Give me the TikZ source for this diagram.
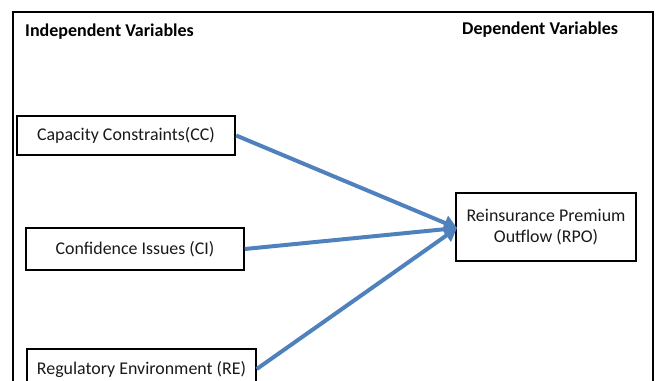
\documentclass[tikz,border=0pt]{standalone}
\usepackage{fontspec}
\setmainfont{Carlito}
\usetikzlibrary{arrows.meta}
\definecolor{arrowblue}{RGB}{79,129,189}
\begin{document}
\begin{tikzpicture}[x=1pt,y=-1pt,
  varbox/.style={draw=black,rectangle,inner sep=0pt,align=center,font=\fontsize{17.9}{21}\selectfont,text=black!90},
  heading/.style={anchor=west,inner sep=0pt,font=\bfseries\fontsize{18}{21}\selectfont},
  link/.style={draw=arrowblue,line width=4pt,-{Triangle[length=13pt,width=15pt]}}]
\useasboundingbox (0,0) rectangle (658,380);
\clip (0,0) rectangle (658,380);
\draw[line width=1.2pt] (13,382) -- (13,12) -- (653,12) -- (653,382);
\node[heading] (hi) at (25,32) {Independent Variables};
\node[heading] (hd) at (462,30) {Dependent Variables};
\node[varbox,line width=2.4pt,minimum width=218pt,minimum height=39pt] (CC) at (126,135.5) {\raisebox{-1.5pt}{Capacity Constraints(CC)}};
\node[varbox,line width=1.5pt,minimum width=218pt,minimum height=42pt] (CI) at (135,249) {Confidence Issues (CI)};
\node[varbox,line width=1.5pt,minimum width=229pt,minimum height=40pt] (RE) at (141.5,369) {Regulatory Environment (RE)};
\node[varbox,line width=1.5pt,minimum width=180pt,minimum height=68pt] (RPO) at (546,227) {Reinsurance Premium\\Outflow (RPO)};
\coordinate (tip) at (457,228);
\draw[link] (CC.east) -- (tip);
\draw[link] (CI.east) -- (tip);
\draw[link] (RE.east) -- (tip);
\end{tikzpicture}
\end{document}
